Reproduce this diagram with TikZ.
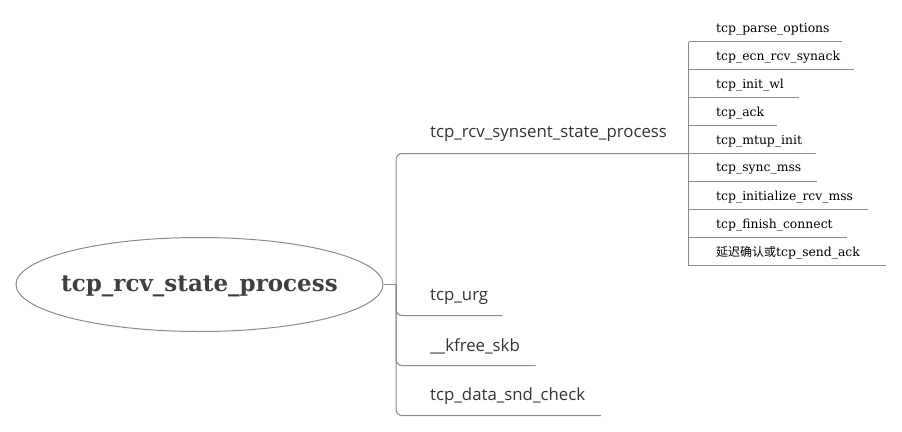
\documentclass[tikz,border=0pt]{standalone}
\usepackage{fontspec}
\setmainfont{DejaVu Serif}
\setsansfont{Open Sans}
\newfontfamily\cjk{Noto Sans CJK SC}
\usetikzlibrary{shapes.geometric}
\definecolor{linegray}{HTML}{8A8A8A}
\definecolor{rootgray}{HTML}{3F3F3F}
\definecolor{txtgray}{HTML}{333333}
\begin{document}
\begin{tikzpicture}[x=1pt,y=-1pt,
  conn/.style={draw=linegray, line width=1pt},
  rootnode/.style={ellipse, draw=linegray, line width=1pt, minimum width=367pt, minimum height=94pt, inner sep=0pt},
  roottext/.style={inner sep=0pt, font=\fontsize{23}{27}\selectfont\bfseries, text=rootgray},
  lvlone/.style={anchor=west, inner sep=0pt, font=\sffamily\fontsize{16.8}{20}\selectfont, text=txtgray},
  lvltwo/.style={anchor=west, inner sep=0pt, font=\fontsize{12.4}{14}\selectfont, text=black}]
\useasboundingbox (0,0) rectangle (902,431);

\node[rootnode] (root) at (199.5,284.5) {};
\node[roottext] (roott) at (199.5,286) {tcp\_rcv\_state\_process};
\coordinate (bus) at (396,284.5);
\draw[conn] (root.east) -- (bus);

% level one
\node[lvlone] (a) at (430,134) {tcp\_rcv\_synsent\_state\_process};
\node[lvlone] (b) at (430,297) {tcp\_urg};
\node[lvlone] (c) at (430,346) {\_\_kfree\_skb};
\node[lvlone] (d) at (430,396) {tcp\_data\_snd\_check};

\coordinate (sbus) at (688.5,153.5);
\coordinate (bend) at (502.5,315.5);
\coordinate (cend) at (535.5,365.5);
\coordinate (dend) at (601,415.5);

\draw[conn, rounded corners=6pt] (bus) |- (sbus);
\draw[conn, rounded corners=6pt] (bus) |- (bend);
\draw[conn, rounded corners=6pt] (bus) |- (cend);
\draw[conn, rounded corners=6pt] (bus) |- (dend);

% level two
\node[lvltwo] (s1) at (716,29) {tcp\_parse\_options};
\node[lvltwo] (s2) at (716,57) {tcp\_ecn\_rcv\_synack};
\node[lvltwo] (s3) at (716,85) {tcp\_init\_wl};
\node[lvltwo] (s4) at (716,113) {tcp\_ack};
\node[lvltwo] (s5) at (716,141) {tcp\_mtup\_init};
\node[lvltwo] (s6) at (716,169) {tcp\_sync\_mss};
\node[lvltwo] (s7) at (716,197) {tcp\_initialize\_rcv\_mss};
\node[lvltwo] (s8) at (716,225) {tcp\_finish\_connect};
\node[lvltwo] (s9) at (716,253) {{\cjk\fontsize{12}{14}\selectfont 延迟确认或}tcp\_send\_ack};

\coordinate (e1) at (842,41.7);
\coordinate (e2) at (854,69.7);
\coordinate (e3) at (798.5,97.7);
\coordinate (e4) at (777,125.7);
\coordinate (e5) at (816,153.7);
\coordinate (e6) at (817,181.7);
\coordinate (e7) at (868,209.7);
\coordinate (e8) at (847,237.7);
\coordinate (e9) at (886,265.7);

\draw[conn] (sbus |- e1) -- (sbus |- e9);
\foreach \i in {1,...,9} {
  \draw[conn] (sbus |- e\i) -- (e\i);
}
\end{tikzpicture}
\end{document}
